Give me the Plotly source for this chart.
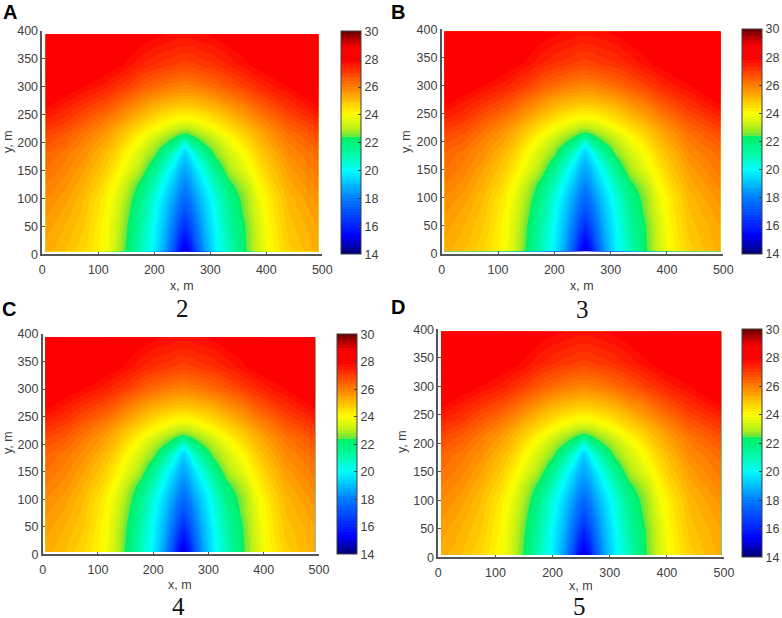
import plotly.graph_objects as go

W, H = 782, 618
x_inner = [40, 75, 110, 130, 150, 175, 200, 220, 235, 245, 255, 265, 275, 290, 310, 335, 365, 385, 405, 440]
y_inner = [25, 50, 75, 100, 125, 150, 165, 180, 190, 200, 208, 215, 225, 240, 265, 300, 340]

temps = [
 [25.3,25.0,24.6,24.0,23.3,22.3,21.0,19.8,18.5,17.0,15.6,14.9,15.6,17.0,18.5,19.8,21.0,22.4,23.3,24.0,24.7,25.3],
 [25.4,25.1,24.7,24.05,23.35,22.4,21.1,19.9,18.7,17.4,16.2,15.5,16.2,17.4,18.7,19.9,21.1,22.45,23.35,24.05,24.8,25.35],
 [25.5,25.2,24.8,24.1,23.4,22.5,21.3,20.0,18.9,17.8,16.9,16.3,16.9,17.8,18.9,20.0,21.3,22.5,23.4,24.1,24.9,25.4],
 [25.65,25.35,24.9,24.2,23.55,22.7,21.5,20.2,19.15,18.2,17.5,17.0,17.5,18.2,19.15,20.2,21.5,22.7,23.55,24.2,25.0,25.55],
 [25.8,25.5,25.0,24.3,23.7,22.9,21.8,20.4,19.4,18.6,18.0,17.6,18.0,18.6,19.4,20.4,21.8,22.8,23.7,24.3,25.1,25.7],
 [26.0,25.7,25.2,24.55,24.0,23.2,22.2,20.95,19.85,19.1,18.5,18.15,18.5,19.1,19.85,20.95,22.2,23.15,24.0,24.55,25.3,25.9],
 [26.2,25.9,25.4,24.8,24.3,23.7,22.9,21.6,20.4,19.6,19.0,18.7,19.0,19.6,20.4,21.6,22.9,23.7,24.3,24.8,25.5,26.1],
 [26.3,26.0,25.55,24.95,24.5,23.9,23.15,22.1,20.9,20.1,19.4,19.0,19.4,20.1,20.9,22.1,23.15,23.9,24.5,24.95,25.65,26.2],
 [26.4,26.1,25.7,25.1,24.7,24.1,23.4,22.6,21.5,20.6,19.9,19.3,19.9,20.6,21.5,22.6,23.4,24.1,24.7,25.1,25.8,26.3],
 [26.55,26.25,25.8,25.25,24.85,24.3,23.6,22.85,22.0,21.3,20.6,19.8,20.6,21.3,22.0,22.85,23.6,24.3,24.85,25.25,25.9,26.45],
 [26.7,26.4,25.9,25.4,25.0,24.5,23.8,23.1,22.5,21.9,21.3,20.5,21.3,21.9,22.5,23.1,23.8,24.5,25.0,25.4,26.0,26.6],
 [26.8,26.5,26.0,25.5,25.1,24.65,24.0,23.35,22.8,22.35,21.9,21.5,21.9,22.35,22.8,23.35,24.0,24.65,25.1,25.5,26.1,26.7],
 [26.9,26.6,26.1,25.6,25.2,24.8,24.2,23.6,23.1,22.8,22.5,22.3,22.5,22.8,23.1,23.6,24.2,24.8,25.2,25.6,26.2,26.8],
 [27.1,26.8,26.3,25.8,25.4,25.0,24.5,24.0,23.6,23.3,23.1,23.0,23.1,23.3,23.6,24.0,24.5,25.0,25.4,25.8,26.4,27.0],
 [27.4,27.1,26.6,26.1,25.8,25.4,24.9,24.5,24.2,24.0,23.9,23.9,23.9,24.0,24.2,24.5,24.9,25.4,25.8,26.1,26.7,27.3],
 [27.85,27.5,27.1,26.7,26.4,26.0,25.6,25.2,25.0,24.9,24.8,24.8,24.8,24.9,25.0,25.2,25.6,26.0,26.4,26.7,27.2,27.8],
 [28.3,28.1,27.8,27.5,27.25,27.0,26.6,26.3,26.1,26.0,25.95,25.9,25.95,26.0,26.1,26.3,26.6,27.0,27.25,27.5,27.8,28.3],
 [28.5,28.4,28.3,28.1,27.95,27.75,27.45,27.2,27.1,27.0,26.95,26.9,26.95,27.0,27.1,27.2,27.45,27.75,27.95,28.1,28.3,28.5],
 [28.6,28.6,28.5,28.4,28.3,28.2,28.05,27.9,27.8,27.75,27.7,27.7,27.7,27.75,27.8,27.9,28.05,28.2,28.3,28.4,28.5,28.6],
]

letters = ["A", "B", "C", "D"]
numbers = ["2", "3", "4", "5"]
ticks_x = [0, 100, 200, 300, 400, 500]
ticks_y = [0, 50, 100, 150, 200, 250, 300, 350, 400]
ticks_c = [14, 16, 18, 20, 22, 24, 26, 28, 30]

panels = [
 dict(ax=(42.3,322.3,31,254.3),   cb=341,   edge=(6,493,5,394), let=(10,12),   num=(182,308), xl=(182,286), yl=(8,142)),
 dict(ax=(441.7,723.3,29.3,254),  cb=741.7, edge=(5,495,5,396), let=(398,12),  num=(582,309), xl=(582,286), yl=(406,142)),
 dict(ax=(42.7,319,334,554.3),    cb=336.7, edge=(5,493,4,394), let=(9,309),   num=(178,606), xl=(180,585), yl=(8,443)),
 dict(ax=(438.3,724,329.3,557.3), cb=742,   edge=(5,495,4,396), let=(398,307), num=(579,605.5), xl=(581,586), yl=(402,442)),
]

def c(v): return (v - 14) / 16
scale = [
 [c(14),"rgb(0,0,115)"],[c(15.3),"rgb(0,0,255)"],[c(18),"rgb(0,125,255)"],[c(20),"rgb(0,255,255)"],
 [c(21),"rgb(0,250,175)"],[c(22.3),"rgb(0,240,105)"],[c(22.45),"rgb(105,230,60)"],[c(23),"rgb(185,240,25)"],[c(24),"rgb(255,255,0)"],
 [c(25),"rgb(255,190,0)"],[c(26),"rgb(255,125,0)"],[c(27),"rgb(255,60,0)"],[c(27.9),"rgb(255,0,0)"],
 [c(28.8),"rgb(255,0,0)"],[c(29.3),"rgb(190,0,0)"],[c(30),"rgb(110,0,0)"],
]

def fx(px): return px / W
def fy(py): return 1 - py / H

GREY = "#404040"
FONT = "Liberation Sans"
fig = go.Figure()
layout = dict(width=W, height=H, margin=dict(l=0, r=0, t=0, b=0, pad=0, autoexpand=False), autosize=False,
              paper_bgcolor="white", plot_bgcolor="white", showlegend=False,
              font=dict(family=FONT, size=12.5, color=GREY))
notes = []
for i, p in enumerate(panels):
    x0, x1, yt, yb = p["ax"]
    xl, xr, ylo, yhi = p["edge"]
    sx = "" if i == 0 else str(i + 1)
    fig.add_trace(go.Contour(
        x=[xl] + x_inner + [xr], y=[ylo] + y_inner + [yhi], z=temps,
        xaxis="x" + sx, yaxis="y" + sx, colorscale=scale, zmin=14, zmax=30, zauto=False,
        autocontour=False, contours=dict(start=14, end=30, size=0.2, coloring="fill", showlines=False),
        line=dict(width=0), hoverinfo="skip",
        colorbar=dict(x=fx(p["cb"]), xanchor="left", y=fy(yb), yanchor="bottom",
                      len=(yb - yt) / H, lenmode="fraction", thickness=20, thicknessmode="pixels",
                      xpad=0, ypad=0, tickmode="array", tickvals=ticks_c, ticks="inside", ticklen=3,
                      tickcolor=GREY, outlinecolor=GREY, outlinewidth=1, borderwidth=0,
                      tickfont=dict(family=FONT, size=12.5, color=GREY)),
    ))
    common = dict(showgrid=False, zeroline=False, showline=True, linecolor="#555555", linewidth=1.5,
                  ticks="inside", ticklen=3, tickcolor="#555555", tickmode="array",
                  tickfont=dict(family=FONT, size=12.5, color=GREY))
    layout["xaxis" + sx] = dict(domain=[fx(x0), fx(x1)], range=[0, 500], tickvals=ticks_x,
                                anchor="y" + sx, ticklabelstandoff=3, **common)
    layout["yaxis" + sx] = dict(domain=[fy(yb), fy(yt)], range=[0, 400], tickvals=ticks_y,
                                anchor="x" + sx, **common)
    def note(text, pos, **kw):
        notes.append(dict(text=text, x=fx(pos[0]), y=fy(pos[1]), xref="paper", yref="paper",
                          xanchor="center", yanchor="middle", showarrow=False, **kw))
    note(f"<b>{letters[i]}</b>", p["let"], font=dict(family=FONT, size=20, color="black"))
    note(numbers[i], p["num"], height=20, font=dict(family="Liberation Serif", size=25, color="#111111"))
    note("x, m", p["xl"], height=12, font=dict(family=FONT, size=12.5, color=GREY))
    note("y, m", p["yl"], textangle=-90, font=dict(family=FONT, size=12.5, color=GREY))
layout["annotations"] = notes
fig.update_layout(**layout)
fig.write_html("out.html", config={"displayModeBar": False},
               post_script="document.body.style.margin='0';document.documentElement.style.overflow='hidden';")
